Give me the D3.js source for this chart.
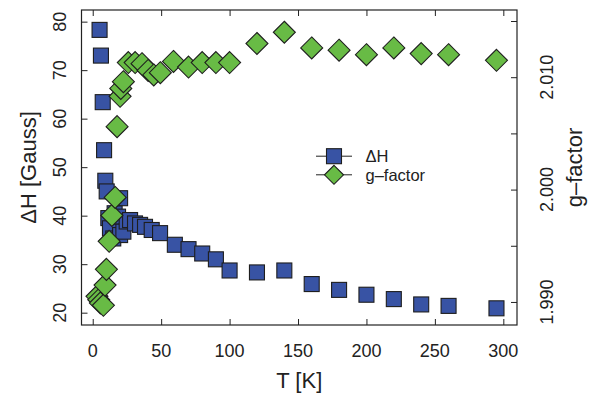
<!DOCTYPE html>
<html><head><meta charset="utf-8">
<script src="https://cdn.jsdelivr.net/npm/d3@7"></script>
<style>body{margin:0;background:#fff}svg{display:block}text{font-family:"Liberation Sans",Arial,Helvetica,sans-serif;fill:#222}</style>
</head><body><div id="chart"></div>
<script>
// ΔH [Gauss] vs T [K]
const dhT = [5, 6, 7.3, 8.3, 9.2, 10.2, 11.4, 12.6, 15, 16, 18.5, 20, 20, 22.4, 24.8, 27.3, 30.9, 34.6, 38.2, 43.1, 49.2, 60, 70, 80, 90, 100, 120, 140, 160, 180, 200, 220, 240, 260, 295];
const dhV = [78.3, 73.0, 63.4, 53.5, 47.2, 45.0, 39.5, 37.4, 35.3, 40.5, 39.8, 36.0, 43.6, 36.7, 38.8, 39.1, 38.4, 38.1, 37.7, 37.05, 36.4, 34.0, 33.1, 32.2, 31.0, 28.7, 28.3, 28.7, 25.9, 24.7, 23.7, 22.8, 21.7, 21.4, 20.9];
// g-factor vs T [K]
const gT = [3.1, 4.4, 5.6, 7.8, 9, 10, 12, 14, 16.4, 17.8, 20, 20.5, 22.4, 26, 31, 36, 40.5, 44.6, 49.4, 59, 70, 80, 90, 100, 120, 140, 160, 180, 200, 220, 240, 260, 295];
const gV = [1.9905, 1.9902, 1.9899, 1.9897, 1.9915, 1.9929, 1.9954, 1.9977, 1.9993, 2.0056, 2.0083, 2.0090, 2.0096, 2.0113, 2.0113, 2.0112, 2.0106, 2.0102, 2.0104, 2.0114, 2.0109, 2.0113, 2.0113, 2.0113, 2.0130, 2.0140, 2.0126, 2.0124, 2.0120, 2.0126, 2.0121, 2.0120, 2.0115];
const xTicks = [0, 50, 100, 150, 200, 250, 300];
const yLeftTicks = [20, 30, 40, 50, 60, 70, 80];
const yRightTicks = [1.990, 1.995, 2.000, 2.005, 2.010, 2.015];
const yRightLabels = [1.990, 2.000, 2.010];
const legendLabels = ["\u0394H", "g\u2013factor"];

const W = 596, H = 393;
const box = {l: 81.5, r: 517, t: 10, b: 325};
const x = d3.scaleLinear().domain([-8.2, 310]).range([box.l, box.r]);
const yL = d3.scaleLinear().domain([17.46, 82.4]).range([box.b, box.t]);
const yR = d3.scaleLinear().domain([1.98795, 2.01598]).range([box.b, box.t]);

const svg = d3.select("#chart").append("svg").attr("width", W).attr("height", H);
const blue = "#3853a4", green = "#68bb45", edge = "#1e1e1e";

// axes (inward ticks)
const tk = 6;
function styleAxis(g){ g.select(".domain").remove(); g.selectAll("line").attr("stroke","#222").attr("stroke-width",1); g.selectAll("text").remove(); }
svg.append("g").attr("transform",`translate(0,${box.b})`).call(d3.axisBottom(x).tickValues(xTicks).tickSize(-tk)).call(styleAxis);
svg.append("g").attr("transform",`translate(0,${box.t})`).call(d3.axisTop(x).tickValues(xTicks).tickSize(-tk)).call(styleAxis);
svg.append("g").attr("transform",`translate(${box.l},0)`).call(d3.axisLeft(yL).tickValues(yLeftTicks).tickSize(-tk)).call(styleAxis);
svg.append("g").attr("transform",`translate(${box.r},0)`).call(d3.axisRight(yR).tickValues(yRightTicks).tickSize(-tk)).call(styleAxis);

svg.append("rect").attr("x",box.l).attr("y",box.t).attr("width",box.r-box.l).attr("height",box.b-box.t)
  .attr("fill","none").attr("stroke","#222").attr("stroke-width",1.2);

// tick labels
svg.append("g").selectAll("text").data(xTicks).join("text")
  .attr("x", d=>x(d)).attr("y", 357).attr("text-anchor","middle").attr("font-size",18).text(d=>d);
svg.append("g").selectAll("text").data(yLeftTicks).join("text")
  .attr("transform", d=>`translate(65.5,${yL(d)}) rotate(-90)`).attr("text-anchor","middle").attr("font-size",18).text(d=>d);
svg.append("g").selectAll("text").data(yRightLabels).join("text")
  .attr("transform", d=>`translate(552.5,${yR(d)}) rotate(-90)`).attr("text-anchor","middle").attr("font-size",18).text(d=>d3.format(".3f")(d));

// titles
svg.append("text").attr("x",(box.l+box.r)/2).attr("y",388).attr("text-anchor","middle").attr("font-size",22).text("T [K]");
svg.append("text").attr("transform",`translate(35.5,${(box.t+box.b)/2}) rotate(-90)`).attr("text-anchor","middle").attr("font-size",22).text("\u0394H [Gauss]");
svg.append("text").attr("transform",`translate(582,${(box.t+box.b)/2}) rotate(-90)`).attr("text-anchor","middle").attr("font-size",22).text("g\u2013factor");

// markers
const sq = 15, dm = 11;
const diamond = r => `M0,${-r}L${r},0L0,${r}L${-r},0Z`;
const plot = svg.append("g");
plot.selectAll("rect.dh").data(dhT.map((t,i)=>[t,dhV[i]])).join("rect").attr("class","dh")
  .attr("x", d=>x(d[0])-sq/2).attr("y", d=>yL(d[1])-sq/2).attr("width",sq).attr("height",sq)
  .attr("fill",blue).attr("stroke",edge).attr("stroke-width",1.1);
plot.selectAll("path.gf").data(gT.map((t,i)=>[t,gV[i]])).join("path").attr("class","gf")
  .attr("transform", d=>`translate(${x(d[0])},${yR(d[1])})`).attr("d", diamond(dm))
  .attr("fill",green).attr("stroke",edge).attr("stroke-width",1.1);

// legend
const lg = svg.append("g");
const ly = [156.2, 174.8];
ly.forEach((yy,i)=>{
  lg.append("line").attr("x1",316).attr("x2",352).attr("y1",yy).attr("y2",yy).attr("stroke","#222").attr("stroke-width",1);
  if(i===0) lg.append("rect").attr("x",334-7.5).attr("y",yy-7.5).attr("width",15).attr("height",15).attr("fill",blue).attr("stroke",edge).attr("stroke-width",1.1);
  else lg.append("path").attr("transform",`translate(334,${yy})`).attr("d",diamond(9.5)).attr("fill",green).attr("stroke",edge).attr("stroke-width",1.1);
  lg.append("text").attr("x",365.5).attr("y",yy+5.8).attr("font-size",16.5).text(legendLabels[i]);
});
</script></body></html>
